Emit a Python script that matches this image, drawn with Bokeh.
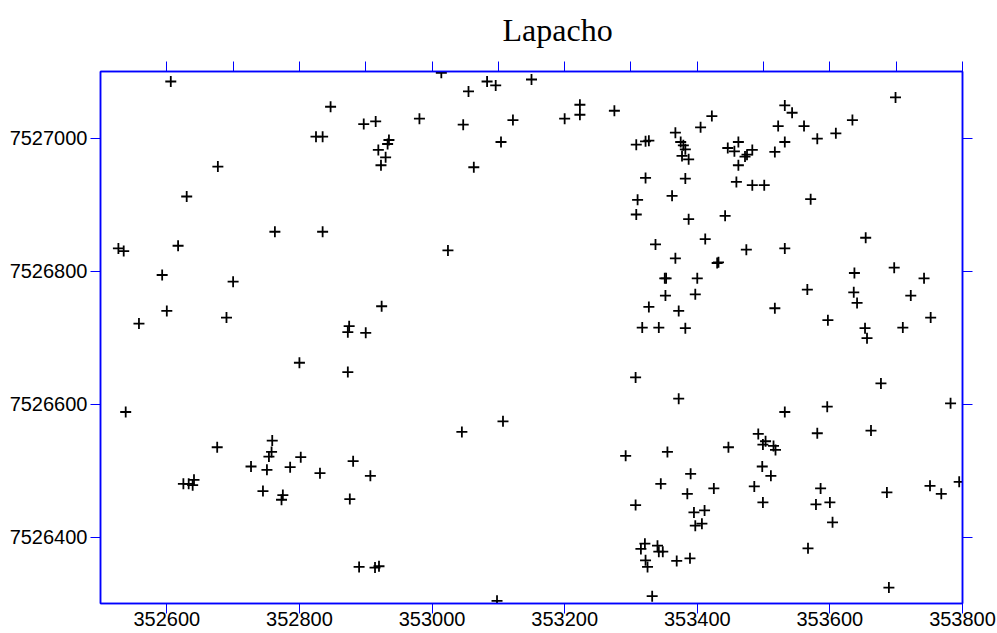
from bokeh.plotting import figure
from bokeh.models import LinearAxis, FixedTicker, BasicTickFormatter, Range1d
from bokeh.embed import file_html
from bokeh.resources import INLINE

# Sample locations (UTM easting / northing, metres)
easting = [
    352606, 352825, 352835, 352677, 352630, 352763, 352835, 352527, 352535, 352617,
    352593, 352700, 352600, 352690, 352558, 353014, 352847, 352897, 352915, 352981,
    353055, 353083, 353096, 353150, 353047, 353122, 353104, 352935, 352933, 352919,
    352930, 352923, 353063, 353024, 352924, 352875, 352873, 352900, 352800, 352873,
    352538, 353045, 353107, 352676, 352759, 352758, 352754, 352802, 352727, 352751,
    352786, 352831, 352881, 352907, 352625, 352633, 352641, 352639, 352745, 352775,
    352773, 352876, 352890, 352914, 352920, 353098, 353200, 353223, 353223, 353275,
    353422, 353405, 353367, 353308, 353322, 353327, 353375, 353379, 353382, 353377,
    353387, 353446, 353456, 353462, 353472, 353475, 353483, 353462, 353322, 353382,
    353459, 353483, 353310, 353362, 353308, 353387, 353442, 353337, 353412, 353367,
    353474, 353430, 353432, 353351, 353353, 353400, 353352, 353397, 353327, 353372,
    353317, 353342, 353382, 353532, 353543, 353522, 353561, 353581, 353609, 353634,
    353699, 353532, 353517, 353501, 353571, 353654, 353532, 353637, 353697, 353742,
    353566, 353636, 353641, 353722, 353517, 353597, 353653, 353656, 353710, 353752,
    353307, 353372, 353292, 353355, 353447, 353390, 353345, 353385, 353425, 353307,
    353395, 353411, 353397, 353407, 353321, 353315, 353340, 353342, 353348, 353322,
    353325, 353369, 353389, 353332, 353677, 353782, 353532, 353596, 353581, 353662,
    353492, 353503, 353499, 353515, 353518, 353498, 353511, 353486, 353586, 353499,
    353579, 353600, 353604, 353686, 353751, 353768, 353795, 353567, 353689,
]
northing = [
    7527085, 7527002, 7527002, 7526957, 7526912, 7526859, 7526859, 7526834, 7526830, 7526838,
    7526794, 7526784, 7526740, 7526730, 7526721, 7527098, 7527047, 7527021, 7527025, 7527029,
    7527070, 7527085, 7527079, 7527088, 7527020, 7527027, 7526994, 7526997, 7526991, 7526982,
    7526971, 7526959, 7526956, 7526831, 7526747, 7526717, 7526708, 7526707, 7526662, 7526648,
    7526588, 7526558, 7526574, 7526535, 7526545, 7526528, 7526521, 7526520, 7526506, 7526501,
    7526505, 7526496, 7526514, 7526492, 7526480, 7526480, 7526486, 7526478, 7526469, 7526463,
    7526456, 7526457, 7526355, 7526354, 7526356, 7526304, 7527029, 7527050, 7527035, 7527041,
    7527033, 7527016, 7527008, 7526990, 7526995, 7526996, 7526994, 7526989, 7526983, 7526973,
    7526968, 7526985, 7526980, 7526994, 7526972, 7526975, 7526982, 7526959, 7526940, 7526939,
    7526934, 7526929, 7526907, 7526913, 7526885, 7526878, 7526883, 7526840, 7526848, 7526819,
    7526832, 7526812, 7526813, 7526789, 7526789, 7526789, 7526763, 7526765, 7526746, 7526740,
    7526715, 7526715, 7526714, 7527049, 7527038, 7527018, 7527018, 7526999, 7527007, 7527027,
    7527061, 7526994, 7526979, 7526929, 7526908, 7526850, 7526834, 7526797, 7526805, 7526789,
    7526772, 7526768, 7526752, 7526763, 7526744, 7526726, 7526714, 7526699, 7526715, 7526730,
    7526640, 7526608, 7526522, 7526528, 7526535, 7526495, 7526480, 7526465, 7526473, 7526448,
    7526437, 7526440, 7526417, 7526420, 7526390, 7526382, 7526387, 7526378, 7526378, 7526365,
    7526355, 7526364, 7526368, 7526311, 7526631, 7526601, 7526588, 7526596, 7526556, 7526560,
    7526555, 7526544, 7526539, 7526537, 7526531, 7526506, 7526492, 7526476, 7526473, 7526452,
    7526449, 7526452, 7526422, 7526467, 7526477, 7526465, 7526483, 7526383, 7526324,
]

title_text = "Lapacho"
x_limits = (352500, 353800)
y_limits = (7526300, 7527100)
x_ticks_bottom = [352600, 352800, 353000, 353200, 353400, 353600, 353800]
x_ticks_top = [352600, 352700, 352800, 352900, 353000, 353100, 353200,
               353300, 353400, 353500, 353600, 353700, 353800]
y_ticks = [7526400, 7526600, 7526800, 7527000]

FRAME_BLUE = "#0000ff"
LABEL_FONT = "Liberation Sans"

p = figure(
    width=997, height=633, title=title_text,
    x_range=Range1d(*x_limits), y_range=Range1d(*y_limits),
    output_backend="svg", toolbar_location=None,
    x_axis_location=None, y_axis_location=None,
    min_border_left=100, min_border_right=35,
    min_border_top=70, min_border_bottom=30,
    background_fill_color="white", border_fill_color="white",
)
p.grid.visible = False
p.outline_line_color = FRAME_BLUE
p.outline_line_width = 1.5

p.title.align = "left"
p.title.vertical_align = "top"
p.title.offset = 402
p.title.standoff = 23
p.title.text_font = "Liberation Serif"
p.title.text_font_style = "normal"
p.title.text_font_size = "32px"
p.title.text_color = "black"


def styled_axis(ticks, show_labels, standoff=0):
    ax = LinearAxis(
        ticker=FixedTicker(ticks=ticks),
        formatter=BasicTickFormatter(use_scientific=False),
    )
    ax.axis_line_color = FRAME_BLUE
    ax.axis_line_width = 1.5
    ax.major_tick_line_color = FRAME_BLUE
    ax.major_tick_line_width = 1
    ax.major_tick_in = 0
    ax.major_tick_out = 10
    ax.minor_tick_line_color = None
    ax.major_label_standoff = standoff
    ax.major_label_text_font = LABEL_FONT
    if show_labels:
        ax.major_label_text_color = "black"
        ax.major_label_text_font_size = "20px"
    else:
        # tick marks only on the top and right edges
        ax.major_label_text_color = None
        ax.major_label_text_font_size = "0px"
    return ax


p.add_layout(styled_axis(x_ticks_bottom, True, standoff=-2), "below")
p.add_layout(styled_axis(y_ticks, True, standoff=3), "left")
p.add_layout(styled_axis(x_ticks_top, False), "above")
p.add_layout(styled_axis(y_ticks, False), "right")

p.scatter(easting, northing, marker="cross", size=11,
          line_color="black", line_width=1.8)

open("out.html", "w").write(file_html(p, INLINE))
